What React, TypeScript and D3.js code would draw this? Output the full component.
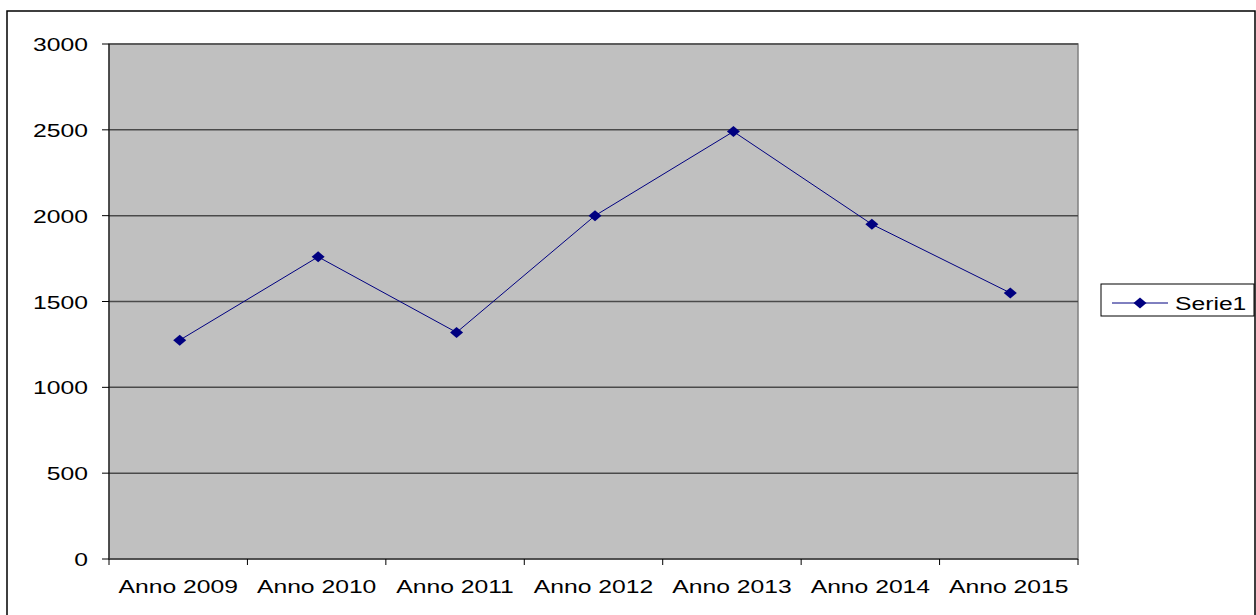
import React from "react";
import * as d3 from "d3";

const categories = ["Anno 2009", "Anno 2010", "Anno 2011", "Anno 2012", "Anno 2013", "Anno 2014", "Anno 2015"];
const serie1 = [1275, 1760, 1320, 2000, 2490, 1950, 1550];
const yTicks = [0, 500, 1000, 1500, 2000, 2500, 3000];
const seriesName = "Serie1";

const W = 1256;
const H = 615;
const plot = { left: 109, right: 1078, top: 44, bottom: 559 };
const FONT = "'Liberation Sans', Arial, sans-serif";
const FS = 19;
const SX = 1.3;
const PT_OFFSET = 1.5;

export default function App() {
  const x = d3.scaleBand<string>().domain(categories).range([plot.left, plot.right]).padding(0);
  const y = d3.scaleLinear().domain([0, 3000]).range([plot.bottom, plot.top]);
  const cxOf = (i: number) => (x(categories[i]) as number) + x.bandwidth() / 2 + PT_OFFSET;
  const line = d3
    .line<number>()
    .x((_, i) => cxOf(i))
    .y((d) => y(d));
  const diamond = (cx: number, cy: number) =>
    `M${cx - 6.5},${cy} L${cx},${cy - 5.5} L${cx + 6.5},${cy} L${cx},${cy + 5.5} Z`;

  const Txt = (props: { x: number; y: number; anchor: string; children: any }) => (
    <text
      transform={`translate(${props.x},${props.y}) scale(${SX},1)`}
      textAnchor={props.anchor}
      fontFamily={FONT}
      fontSize={FS}
      fill="#000"
    >
      {props.children}
    </text>
  );

  const xTickPositions = [...categories.map((c) => x(c) as number), plot.right];

  return (
    <svg
      width={W}
      height={H}
      style={{ position: "absolute", left: 0, top: 0, background: "#fff" }}
    >
      <rect x={7} y={11} width={1248} height={620} fill="#fff" stroke="#000" strokeWidth={1.5} />
      <rect
        x={plot.left}
        y={plot.top}
        width={plot.right - plot.left}
        height={plot.bottom - plot.top}
        fill="#c0c0c0"
        stroke="#808080"
        strokeWidth={1.5}
      />
      {yTicks.slice(1).map((t) => (
        <line key={t} x1={plot.left} x2={plot.right} y1={y(t)} y2={y(t)} stroke="#4a4a4a" strokeWidth={1.5} />
      ))}
      <line x1={plot.left} x2={plot.left} y1={plot.top} y2={plot.bottom} stroke="#000" strokeWidth={1} />
      <line x1={plot.left} x2={plot.right} y1={plot.bottom} y2={plot.bottom} stroke="#3a3a3a" strokeWidth={1.5} />
      {yTicks.map((t) => (
        <g key={"yt" + t}>
          <line x1={plot.left - 7} x2={plot.left} y1={y(t)} y2={y(t)} stroke="#000" strokeWidth={1} />
          <Txt x={88} y={y(t) + 7} anchor="end">
            {t}
          </Txt>
        </g>
      ))}
      {xTickPositions.map((px, i) => (
        <line key={"xt" + i} x1={px} x2={px} y1={plot.bottom} y2={plot.bottom + 6} stroke="#000" strokeWidth={1} />
      ))}
      {categories.map((c) => (
        <Txt key={c} x={(x(c) as number) + x.bandwidth() / 2} y={593} anchor="middle">
          {c}
        </Txt>
      ))}
      <path d={line(serie1) || ""} fill="none" stroke="#000080" strokeWidth={1} />
      {serie1.map((v, i) => (
        <path key={"m" + i} d={diamond(cxOf(i), y(v))} fill="#000080" />
      ))}
      <rect x={1101} y={284} width={153} height={32} fill="#fff" stroke="#000" strokeWidth={1} />
      <line x1={1112} x2={1168} y1={303} y2={303} stroke="#000080" strokeWidth={1} />
      <path d={diamond(1140, 303)} fill="#000080" />
      <Txt x={1175} y={310} anchor="start">
        {seriesName}
      </Txt>
    </svg>
  );
}
